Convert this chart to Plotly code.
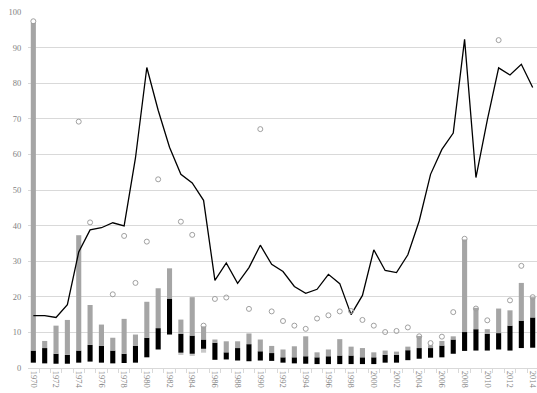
import plotly.graph_objects as go

years = list(range(1970, 2015))

# black bar bottom
low = [1.5, 1.3, 1.2, 1.2, 1.5, 1.8, 1.5, 1.3, 1.4, 1.5,
       3.0, 5.2, 9.4, 4.3, 4.0, 5.4, 2.3, 2.4, 2.1, 1.9,
       2.1, 2.0, 1.5, 1.3, 1.2, 1.1, 1.1, 1.1, 1.1, 1.1,
       1.1, 1.5, 1.5, 2.2, 2.6, 2.9, 3.0, 4.0, 4.8, 4.9,
       4.9, 5.2, 4.9, 5.6, 5.7]
# black bar top / grey bar bottom
mid = [4.9, 5.6, 4.0, 3.7, 4.9, 6.5, 6.2, 4.9, 4.0, 6.2,
       8.5, 11.2, 19.5, 9.6, 9.1, 8.0, 7.1, 4.4, 5.6, 6.7,
       4.7, 4.2, 3.0, 3.0, 3.3, 3.0, 3.3, 3.5, 3.5, 3.0,
       3.0, 3.7, 3.7, 5.0, 5.6, 5.6, 6.3, 8.0, 10.1, 10.9,
       9.6, 9.8, 11.9, 13.3, 14.2]
# grey bar top
high = [96.9, 7.6, 11.9, 13.5, 37.3, 17.7, 12.2, 8.5, 13.8, 9.4,
        18.6, 22.4, 28.0, 13.6, 19.9, 11.7, 8.0, 7.5, 7.5, 9.7,
        8.0, 6.2, 5.2, 6.1, 8.9, 4.4, 5.2, 8.1, 6.0, 5.6,
        4.4, 4.9, 4.6, 6.0, 9.0, 6.4, 7.6, 8.9, 36.1, 16.9,
        10.9, 16.7, 16.2, 23.9, 19.9]
# pale segment bottom (below black bar), only some years
pale_low = [None] * 13 + [3.9, 3.5, 4.3] + [None] * 29
# open circles
maxima = [97.4, None, None, None, 69.2, 40.9, None, 20.7, 37.1, 23.9,
          35.5, 53.0, None, 41.1, 37.4, 11.9, 19.4, 19.8, None, 16.6,
          67.1, 15.9, 13.2, 11.9, 11.0, 13.9, 14.8, 15.9, 16.0, 13.5,
          11.9, 10.1, 10.4, 11.4, 8.9, 7.0, 8.8, 15.7, 36.3, 16.7,
          13.4, 92.1, 19.0, 28.7, 19.9]
# black line
line = [14.7, 14.7, 14.2, 17.8, 32.6, 38.8, 39.4, 40.8, 39.9, 59.0,
        84.4, 72.4, 62.0, 54.4, 52.0, 47.1, 24.6, 29.5, 23.8, 28.2,
        34.5, 29.1, 27.1, 22.9, 21.0, 22.1, 26.3, 23.7, 15.0, 20.4,
        33.2, 27.4, 26.8, 31.8, 41.3, 54.4, 61.4, 66.0, 92.3, 53.5,
        69.6, 84.3, 82.3, 85.3, 78.8]

tick_years = list(range(1970, 2015, 2))

BW = 0.45
fig = go.Figure()

py, pb, ph = [], [], []
for y, pl, lo in zip(years, pale_low, low):
    if pl is not None:
        py.append(y); pb.append(pl); ph.append(lo - pl)
fig.add_trace(go.Bar(x=py, y=ph, base=pb, width=BW, marker=dict(color="#c8c8c8", line=dict(width=0)),
                     showlegend=False, hoverinfo="skip"))
fig.add_trace(go.Bar(x=years, y=[m - l for m, l in zip(mid, low)], base=low, width=BW,
                     marker=dict(color="#000000", line=dict(width=0)), showlegend=False))
fig.add_trace(go.Bar(x=years, y=[h - m for h, m in zip(high, mid)], base=mid, width=BW,
                     marker=dict(color="#a5a5a5", line=dict(width=0)), showlegend=False))
fig.add_trace(go.Scatter(x=years, y=line, mode="lines", line=dict(color="#000000", width=1.3),
                         showlegend=False))
fig.add_trace(go.Scatter(x=years, y=maxima, mode="markers",
                         marker=dict(symbol="circle-open", size=5, color="#a0a0a0", line=dict(width=1)),
                         showlegend=False))

font = dict(family="Liberation Serif, DejaVu Serif, serif", size=8.5, color="#7f7f7f")
fig.update_layout(
    width=537, height=393,
    margin=dict(l=28, r=0, t=12, b=25),
    paper_bgcolor="white", plot_bgcolor="white",
    barmode="overlay",
    font=font,
    xaxis=dict(range=[1969.53, 2014.38], tickmode="array", tickvals=tick_years,
               ticktext=[str(t) for t in tick_years], tickangle=90, ticks="",
               showgrid=False, zeroline=False, showline=True, linecolor="#d9d9d9", linewidth=1,
               tickfont=font, ticklabeloverflow="allow",
               minor=dict(tickmode="linear", tick0=1969.5, dtick=1, ticks="outside", ticklen=4,
                          tickcolor="#d9d9d9", showgrid=False)),
    yaxis=dict(range=[0, 100], tickvals=list(range(0, 101, 10)), showgrid=True, gridcolor="#d9d9d9",
               gridwidth=1, zeroline=False, showline=False, ticks="outside", ticklen=4,
               tickcolor="rgba(0,0,0,0)", tickfont=font),
)

fig.write_html("out.html")
